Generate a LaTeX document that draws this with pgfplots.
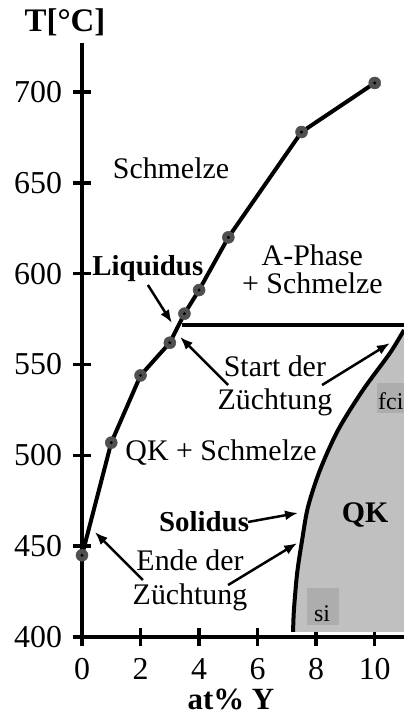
\documentclass[border=0pt]{standalone}
\usepackage{fontspec}
\setmainfont{Liberation Serif}
\usepackage{pgfplots}
\pgfplotsset{compat=1.18}
\usetikzlibrary{arrows.meta}
\definecolor{qkgray}{HTML}{C0C0C0}
\definecolor{boxgray}{HTML}{ADADAD}
\definecolor{markgray}{HTML}{505050}

\begin{document}
\begin{tikzpicture}
\begin{axis}[
    at={(82bp,80bp)}, anchor=south west,
    scale only axis, width=322bp, height=594bp,
    xmin=0, xmax=11, ymin=400, ymax=727,
    axis x line*=bottom, axis y line*=left,
    axis line style={line width=4bp, black},
    xtick={0,2,...,10}, ytick={400,450,...,700},
    tick align=center, major tick length=17bp,
    tick style={line width=3.5bp, black},
    ticklabel style={font=\fontsize{32}{34}\selectfont},
    yticklabel style={xshift=-8bp},
    xticklabel style={anchor=north, yshift=-13bp, inner sep=0pt,
      text height=21bp, text depth=0pt},
    /pgf/number format/assume math mode=true,
    clip=false,
]
% QK region
\addplot[fill=qkgray, draw=none] coordinates {
  (7.21,402.8) (7.24,414.9) (7.35,435.2) (7.52,453.4) (7.72,471.6)
  (8.13,491.9) (8.75,514.0) (9.60,536.0) (10.52,556.3) (11,569)
  (11,402.8)} -- cycle;
\addplot[fill=boxgray, draw=none] coordinates {(7.69,406.6) (8.78,406.6) (8.78,427) (7.69,427)} -- cycle;
\addplot[fill=boxgray, draw=none] coordinates {(10.08,523.3) (11,523.3) (11,539.8) (10.08,539.8)} -- cycle;

% solidus
\addplot[line width=4bp, smooth, no markers] coordinates {
  (7.21,402.8) (7.24,414.9) (7.35,435.2) (7.52,453.4) (7.72,471.6)
  (8.13,491.9) (8.75,514.0) (9.60,536.0) (10.52,556.3) (11,569)};

% horizontal line
\addplot[line width=4bp, no markers] coordinates {(3.4,572) (11,572)};

% liquidus
\addplot[line width=4bp, mark=*, mark size=6bp,
  mark options={fill=markgray, draw=markgray, line width=0.5bp}] coordinates {
  (0,445) (1,507) (2,544) (3,562) (3.5,578) (4,591) (5,620) (7.5,678) (10,705)};
\addplot[only marks, mark=*, mark size=1.3bp, black] coordinates {
  (0,445) (1,507) (2,544) (3,562) (3.5,578) (4,591) (5,620) (7.5,678) (10,705)};

% labels
\begin{scope}[every node/.style={font=\fontsize{30}{34}\selectfont, inner sep=0pt}]
\node at (axis cs:3.04,658.2) {Schmelze};
\node[font=\fontsize{29}{32}\selectfont\bfseries] at (axis cs:2.25,602.6) {Liquidus};
\node[align=center, font=\fontsize{30}{28}\selectfont] at (axis cs:7.87,602.6) {A-Phase\\+ Schmelze};
\node[align=center, font=\fontsize{30}{33}\selectfont] at (axis cs:6.59,538.2) {Start der\\Züchtung};
\node at (axis cs:4.75,501.3) {QK + Schmelze};
\node[font=\fontsize{29}{32}\selectfont\bfseries] at (axis cs:4.17,463.3) {Solidus};
\node[font=\fontsize{30}{32}\selectfont\bfseries] at (axis cs:9.67,467.2) {QK};
\node[align=center, font=\fontsize{30}{34}\selectfont] at (axis cs:3.69,431.4) {Ende der\\Züchtung};
\node[font=\fontsize{24}{26}\selectfont] at (axis cs:8.2,413) {si};
\node[font=\fontsize{24}{26}\selectfont] at (axis cs:10.55,530) {fci};
\node[font=\fontsize{31}{34}\selectfont\bfseries, anchor=base, text height=21bp, text depth=0pt]
  at (axis cs:5.09,360.2) {at\% Y};
\node[font=\fontsize{33}{36}\selectfont\bfseries] at (axis cs:-0.58,738.6) {T[°C]};
\end{scope}

% arrows
\begin{scope}[line width=2.5bp, -{Latex[length=13bp,width=10bp]}]
\draw (axis cs:2.25,593.8) -- (axis cs:3.07,572.9);
\draw (axis cs:4.99,538.7) -- (axis cs:3.35,565.2);
\draw (axis cs:8.20,538.7) -- (axis cs:10.52,561.8);
\draw (axis cs:5.67,463.3) -- (axis cs:7.38,468.3);
\draw (axis cs:2.08,431.4) -- (axis cs:0.44,457.8);
\draw (axis cs:4.99,428.6) -- (axis cs:7.35,451.7);
\end{scope}
\end{axis}
\pgfresetboundingbox
\useasboundingbox (0,0) rectangle (404bp,717bp);
\end{tikzpicture}
\end{document}
